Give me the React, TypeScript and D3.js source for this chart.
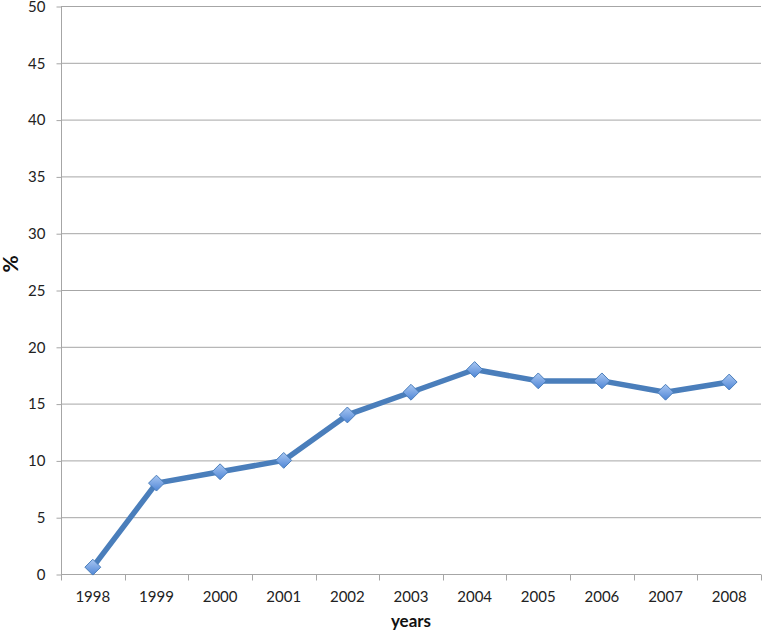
import { useEffect, useRef } from "react";
import * as d3 from "d3";

const years = ["1998", "1999", "2000", "2001", "2002", "2003", "2004", "2005", "2006", "2007", "2008"];
const values = [0.6, 8, 9, 10, 14, 16, 18, 17, 17, 16, 16.9];
const yTicks = [0, 5, 10, 15, 20, 25, 30, 35, 40, 45, 50];

const W = 762, H = 633;
const m = { l: 61, r: 1, t: 6, b: 59 };
const FONT = "Lato, 'Open Sans', sans-serif";

export default function App() {
  const ref = useRef<SVGSVGElement | null>(null);

  useEffect(() => {
    const svg = d3.select(ref.current);
    svg.selectAll("*").remove();

    const x = d3.scaleBand<string>().domain(years).range([m.l, W - m.r]);
    const y = d3.scaleLinear().domain([0, 50]).range([H - m.b, m.t]);

    const defs = svg.append("defs");
    const grad = defs.append("linearGradient")
      .attr("id", "mk")
      .attr("x1", "0%").attr("y1", "0%")
      .attr("x2", "0%").attr("y2", "100%");
    grad.append("stop").attr("offset", "0%").attr("stop-color", "#a9c7f2");
    grad.append("stop").attr("offset", "100%").attr("stop-color", "#4f86d6");

    // gridlines
    svg.append("g")
      .selectAll("line")
      .data(yTicks.filter(d => d > 0))
      .enter()
      .append("line")
      .attr("x1", m.l).attr("x2", W - m.r)
      .attr("y1", d => y(d) + 0.5).attr("y2", d => y(d) + 0.5)
      .attr("stroke", "#a6a6a6")
      .attr("stroke-width", 1);

    // y axis
    const ay = d3.axisLeft(y).tickValues(yTicks).tickSize(5).tickPadding(11);
    svg.append("g")
      .attr("transform", `translate(${m.l + 0.5},0.5)`)
      .call(ay as any)
      .call((g: any) => g.select(".domain").attr("stroke", "#a6a6a6").attr("d", `M0,${y(50)}V${y(0)}`))
      .call((g: any) => g.selectAll("line").attr("stroke", "#a6a6a6"))
      .call((g: any) => g.selectAll("text").attr("fill", "#222").attr("font-size", 15).attr("font-family", FONT));

    // x axis
    const ax = d3.axisBottom(x).tickSize(0).tickPadding(16.5);
    const gx = svg.append("g")
      .attr("transform", `translate(0,${H - m.b + 0.5})`)
      .call(ax as any)
      .call((g: any) => g.select(".domain").attr("stroke", "#a6a6a6").attr("d", `M${m.l},0H${W - m.r}`))
      .call((g: any) => g.selectAll("text").attr("fill", "#222").attr("font-size", 15).attr("font-family", FONT));
    const edges = [...years.map(d => x(d) as number), W - m.r - 0.5];
    gx.append("g")
      .selectAll("line")
      .data(edges)
      .enter()
      .append("line")
      .attr("x1", d => Math.round(d) + 0.5).attr("x2", d => Math.round(d) + 0.5)
      .attr("y1", 0).attr("y2", 6)
      .attr("stroke", "#a6a6a6");

    const cx = (d: string) => (x(d) as number) + x.bandwidth() / 2;

    const line = d3.line<number>()
      .x((_, i) => cx(years[i]))
      .y(d => y(d));

    svg.append("path")
      .datum(values)
      .attr("d", line)
      .attr("fill", "none")
      .attr("stroke", "#4a7ebb")
      .attr("stroke-width", 5.5)
      .attr("stroke-linejoin", "round");

    const sym = d3.symbol().type(d3.symbolDiamond2).size(160);
    svg.append("g")
      .selectAll("path")
      .data(values)
      .enter()
      .append("path")
      .attr("transform", (d, i) => `translate(${cx(years[i])},${y(d)})`)
      .attr("d", sym as any)
      .attr("fill", "url(#mk)")
      .attr("stroke", "#4a7ebb")
      .attr("stroke-width", 1);

    svg.append("text")
      .attr("x", (m.l + W - m.r) / 2)
      .attr("y", 627)
      .attr("text-anchor", "middle")
      .attr("font-family", FONT)
      .attr("font-size", 17)
      .attr("font-weight", "bold")
      .attr("fill", "#111")
      .text("years");

    svg.append("text")
      .attr("transform", `translate(18,${(m.t + H - m.b) / 2 - 26}) rotate(-90)`)
      .attr("text-anchor", "middle")
      .attr("font-family", FONT)
      .attr("font-size", 21)
      .attr("font-weight", "bold")
      .attr("fill", "#111")
      .text("%");
  }, []);

  return (
    <svg
      ref={ref}
      width={W}
      height={H}
      style={{ position: "absolute", left: 0, top: 0, background: "#fff" }}
    />
  );
}
